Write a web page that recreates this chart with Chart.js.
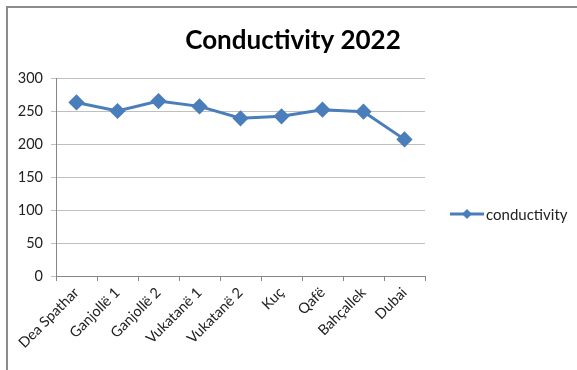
<!DOCTYPE html>
<html>
<head>
<meta charset="utf-8">
<script src="https://cdn.jsdelivr.net/npm/chart.js@4"></script>
<style>
  html, body { margin: 0; padding: 0; background: #fff; }
  #wrap { width: 577px; height: 370px; position: relative; }
</style>
</head>
<body>
<div id="wrap"><canvas id="c" width="577" height="370"></canvas></div>
<script>
const chartTitle = "Conductivity 2022";
const seriesName = "conductivity";
const categories = ["Dea Spathar", "Ganjollë 1", "Ganjollë 2", "Vukatanë 1", "Vukatanë 2", "Kuç", "Qafë", "Bahçallek", "Dubai"];
const conductivity = [263, 250, 265, 257, 239, 242, 252, 249, 207];
const yTicks = [0, 50, 100, 150, 200, 250, 300];

const FONT = "Lato, 'Open Sans', sans-serif";
const LINE_COLOR = "#4A7EBB";

const decorPlugin = {
  id: 'decor',
  beforeDraw(chart) {
    const ctx = chart.ctx;
    ctx.save();
    ctx.fillStyle = '#ffffff';
    ctx.fillRect(0, 0, chart.width, chart.height);
    ctx.strokeStyle = '#8c8c8c';
    ctx.lineWidth = 2;
    ctx.beginPath();
    ctx.moveTo(7, chart.height);
    ctx.lineTo(7, 7);
    ctx.lineTo(chart.width, 7);
    ctx.stroke();
    ctx.restore();
  },
  afterDraw(chart) {
    const ctx = chart.ctx;
    ctx.save();
    ctx.fillStyle = '#000';
    ctx.font = "bold 26px " + FONT;
    ctx.textAlign = 'center';
    ctx.textBaseline = 'middle';
    ctx.fillText(chartTitle, 293, 41);
    const ly = 214;
    ctx.strokeStyle = LINE_COLOR;
    ctx.lineWidth = 3;
    ctx.beginPath();
    ctx.moveTo(450, ly);
    ctx.lineTo(484, ly);
    ctx.stroke();
    ctx.fillStyle = LINE_COLOR;
    ctx.beginPath();
    ctx.moveTo(467, ly - 5);
    ctx.lineTo(472, ly);
    ctx.lineTo(467, ly + 5);
    ctx.lineTo(462, ly);
    ctx.closePath();
    ctx.fill();
    ctx.fillStyle = '#222';
    ctx.font = "15px " + FONT;
    ctx.textAlign = 'left';
    ctx.textBaseline = 'middle';
    ctx.fillText(seriesName, 486, ly + 1);
    ctx.restore();
  }
};

new Chart(document.getElementById('c'), {
  type: 'line',
  data: {
    labels: categories,
    datasets: [{
      label: seriesName,
      data: conductivity,
      borderColor: LINE_COLOR,
      backgroundColor: LINE_COLOR,
      borderWidth: 3,
      pointStyle: 'rectRot',
      pointRadius: 6,
      pointHoverRadius: 6,
      pointBackgroundColor: LINE_COLOR,
      pointBorderColor: LINE_COLOR,
      tension: 0,
      fill: false
    }]
  },
  options: {
    responsive: false,
    animation: false,
    events: [],
    layout: { padding: { left: 6, right: 152, top: 78, bottom: 0 } },
    plugins: {
      legend: { display: false },
      title: { display: false },
      tooltip: { enabled: false }
    },
    scales: {
      x: {
        type: 'category',
        offset: true,
        grid: { display: true, drawOnChartArea: false, drawTicks: true, tickLength: 5, offset: true, color: '#868686' },
        border: { display: true, color: '#868686', width: 1 },
        ticks: {
          color: '#222',
          font: { family: FONT, size: 14.5 },
          minRotation: 45,
          maxRotation: 45,
          autoSkip: false,
          padding: 3
        },
        afterFit(scale) { scale.height = 94; }
      },
      y: {
        min: 0,
        max: 300,
        afterBuildTicks(scale) { scale.ticks = yTicks.map(v => ({ value: v })); },
        grid: { color: '#bfbfbf', drawTicks: true, tickLength: 5, lineWidth: 1 },
        border: { display: true, color: '#868686', width: 1 },
        ticks: {
          color: '#222',
          font: { family: FONT, size: 14.5 },
          padding: 8
        },
        afterFit(scale) { scale.width = 50; }
      }
    }
  },
  plugins: [decorPlugin]
});
</script>
</body>
</html>
